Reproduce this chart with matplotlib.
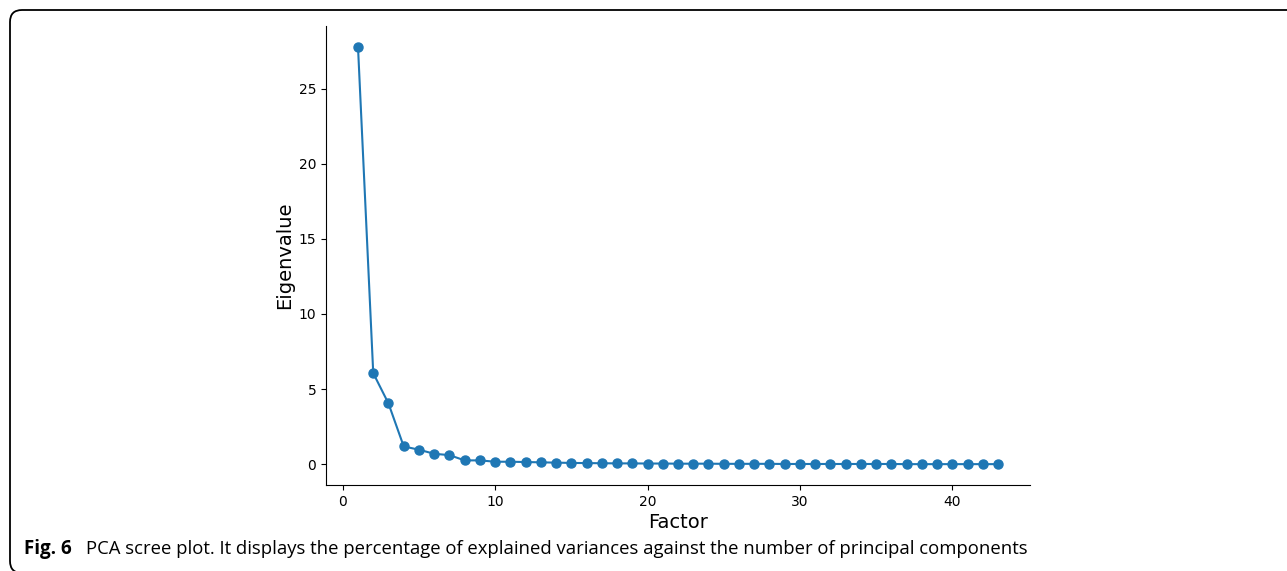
import matplotlib
matplotlib.use("Agg")
import matplotlib.pyplot as plt
from matplotlib.patches import FancyBboxPatch

factors = list(range(1, 44))
eigenvalues = [27.79, 6.06, 4.04, 1.18, 0.96, 0.69, 0.60, 0.25, 0.25, 0.16,
               0.16, 0.14, 0.12, 0.10, 0.08, 0.07, 0.06, 0.05, 0.05, 0.04,
               0.04, 0.03, 0.03, 0.03, 0.02, 0.02, 0.02, 0.02, 0.01, 0.01,
               0.01, 0.01, 0.01, 0.01, 0.01, 0.01, 0.00, 0.00, 0.00, 0.00,
               0.00, 0.00, 0.00]
x_label = "Factor"
y_label = "Eigenvalue"
caption_bold = "Fig. 6"
caption_text = "PCA scree plot. It displays the percentage of explained variances against the number of principal components"

W, H = 1287, 571
fig = plt.figure(figsize=(W / 100, H / 100), dpi=100)

# rounded frame (display pixel coords, origin bottom-left); top edge at y=10 px from top
frame = FancyBboxPatch((10, -2), 1400, H - 10 + 2,
                       boxstyle="round,pad=0,rounding_size=12",
                       transform=None, fill=False, edgecolor="black",
                       linewidth=1.3, zorder=0)
frame.set_clip_on(False)
fig.patches.append(frame)

ax = fig.add_axes([326 / W, 1 - 485 / H, (1030 - 326) / W, (485 - 26) / H])
ax.plot(factors, eigenvalues, marker="o", color="#1f77b4", linewidth=1.5,
        markersize=6.5)
ax.spines["top"].set_visible(False)
ax.spines["right"].set_visible(False)
ax.set_xticks([0, 10, 20, 30, 40])
ax.set_yticks([0, 5, 10, 15, 20, 25])
ax.tick_params(labelsize=10)
ax.set_xlabel(x_label, fontsize=14, labelpad=3)
ax.set_ylabel(y_label, fontsize=14, labelpad=3)

t1 = fig.text(24 / W, 1 - 554 / H, caption_bold, fontsize=13.5,
              fontweight="bold", family="Open Sans", va="baseline", ha="left")
fig.canvas.draw()
bb = t1.get_window_extent()
fig.text((bb.x1 + 14) / W, 1 - 554 / H, caption_text, fontsize=13.3,
         family="Open Sans", va="baseline", ha="left")

fig.savefig("out.png", dpi=100)
